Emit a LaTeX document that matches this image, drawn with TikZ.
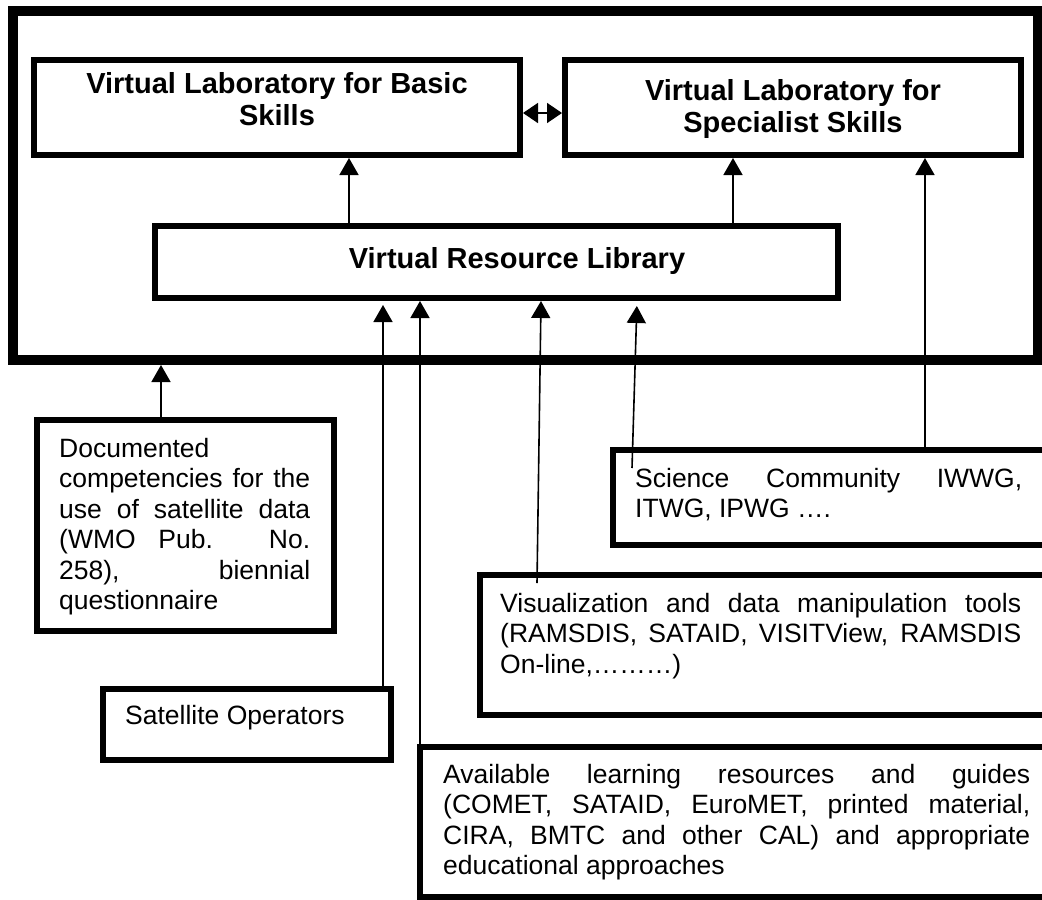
\documentclass[tikz,border=0pt]{standalone}
\usepackage{fontspec}
\setmainfont{Liberation Sans}
\usetikzlibrary{arrows.meta}
\tolerance=10000
\hbadness=10000
\hyphenpenalty=10000

\begin{document}
\begin{tikzpicture}[x=1pt,y=-1pt,
    box/.style={draw,line width=6pt,inner sep=0pt},
    headtxt/.style={font=\fontsize{29}{32.5}\selectfont\bfseries,inner sep=0pt,align=center},
    bodytxt/.style={font=\fontsize{26.5}{30.5}\selectfont,inner sep=0pt,align=justify,anchor=north west},
    feed/.style={line width=1.6pt,>={Triangle[width=19pt,length=17pt]},->},
    twoway/.style={line width=1.6pt,>={Triangle[width=20pt,length=15pt]},<->}]
  \useasboundingbox (0,0) rectangle (1042,900);
  \clip (0,0) rectangle (1042,900);
  % boxes
  \node[box,line width=10pt,minimum width=1025pt,minimum height=349pt] (frame) at (525.5,185.5) {};
  \node[box,minimum width=486pt,minimum height=95pt] (basic) at (277,107.5) {};
  \node[box,minimum width=456pt,minimum height=95pt] (spec) at (793,107.5) {};
  \node[box,minimum width=683pt,minimum height=72pt] (vrl) at (496.5,262) {};
  \node[box,minimum width=297pt,minimum height=211pt] (doc) at (185.5,525.5) {};
  \node[box,minimum width=447pt,minimum height=95pt] (sci) at (836.5,497.5) {};
  \node[box,minimum width=580pt,minimum height=140pt] (vis) at (770,645) {};
  \node[box,minimum width=288pt,minimum height=71pt] (satops) at (247,724.5) {};
  \node[box,minimum width=640pt,minimum height=150pt] (avail) at (740,822) {};
  % texts
  \node[headtxt,anchor=north] (basic-t) at (277,72.2) {Virtual Laboratory for Basic\\Skills};
  \node[headtxt,anchor=north] (spec-t) at (793,79.2) {Virtual Laboratory for\\Specialist Skills};
  \node[headtxt,anchor=base] (vrl-t) at (517,268) {Virtual Resource Library};
  \node[bodytxt,text width=251pt] (doc-t) at (59,438) {Documented\linebreak
    competencies for the\linebreak use of satellite data\linebreak
    (WMO Pub. No.\linebreak 258), biennial\linebreak questionnaire};
  \node[bodytxt,text width=387pt] (sci-t) at (635,468) {Science Community IWWG,\linebreak
    ITWG, IPWG ….};
  \node[bodytxt,text width=521pt] (vis-t) at (500,593) {Visualization and data manipulation tools\linebreak
    (RAMSDIS, SATAID, VISITView, RAMSDIS\linebreak On-line,………)};
  \node[bodytxt,anchor=base west] (satops-t) at (125,724) {Satellite Operators};
  \node[bodytxt,text width=587pt] (avail-t) at (443,764) {Available learning resources and guides\linebreak
    (COMET, SATAID, EuroMET, printed material,\linebreak
    CIRA, BMTC and other CAL) and appropriate\linebreak educational approaches};
  % connectors
  \coordinate (vis-in) at (537,583);
  \coordinate (sci-in) at (632,468);
  \draw[twoway] ([yshift=-5.5pt]basic.east) -- ([yshift=-5.5pt]spec.west);
  \draw[feed] (vrl.north -| 349,0) -- (basic.south -| 349,0);
  \draw[feed] (vrl.north -| 733,0) -- (spec.south -| 733,0);
  \draw[feed] (sci.north -| 925,0) -- (spec.south -| 925,0);
  \draw[feed] (doc.north -| 161,0) -- (frame.south -| 161,0);
  \draw[feed,shorten >=4pt] (satops.north -| 383,0) -- (vrl.south -| 383,0);
  \draw[feed] (avail.north -| 420,0) -- (vrl.south -| 420,0);
  \draw[feed] (vis-in) -- (vrl.south -| 541,0);
  \draw[feed,shorten >=5pt] (sci-in) -- (vrl.south -| 637,0);
\end{tikzpicture}
\end{document}
